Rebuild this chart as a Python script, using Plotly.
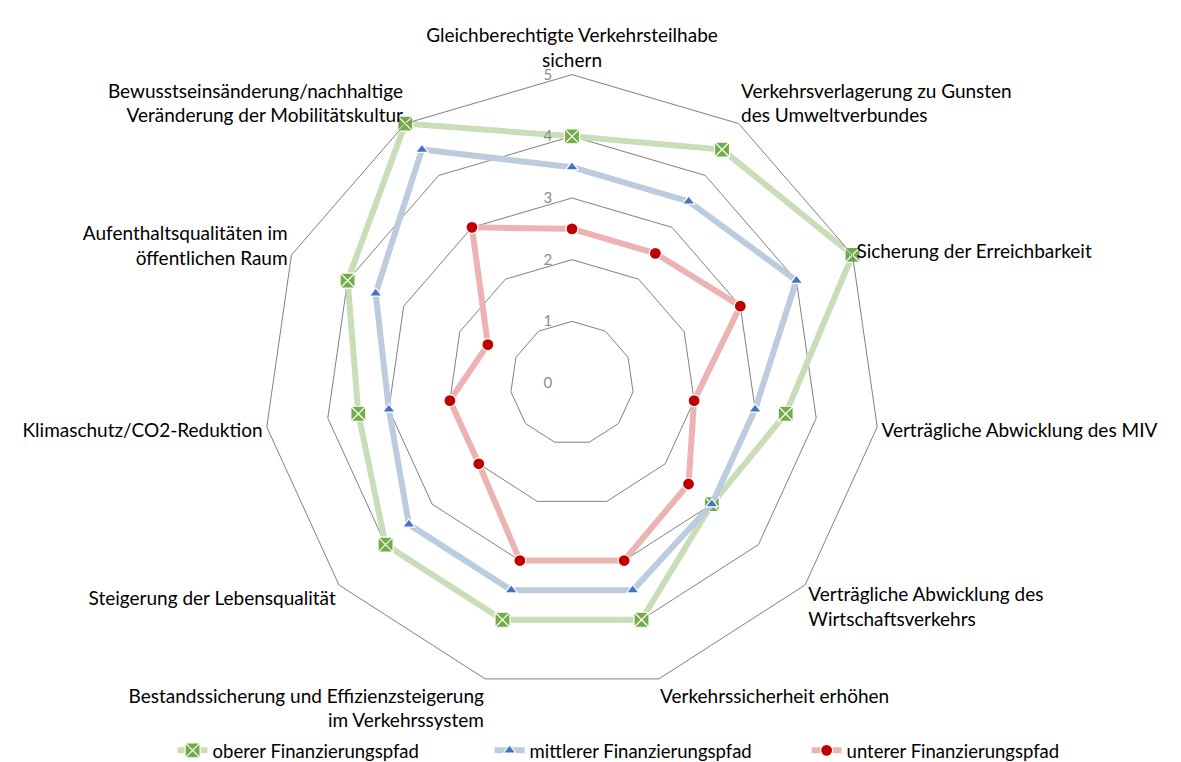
import plotly.graph_objects as go

# Kategorien (im Uhrzeigersinn, oben beginnend)
categories = [
    "Gleichberechtigte Verkehrsteilhabe<br>sichern",
    "Verkehrsverlagerung zu Gunsten<br>des Umweltverbundes",
    "Sicherung der Erreichbarkeit",
    "Verträgliche Abwicklung des MIV",
    "Verträgliche Abwicklung des<br>Wirtschaftsverkehrs",
    "Verkehrssicherheit erhöhen",
    "Bestandssicherung und Effizienzsteigerung<br>im Verkehrssystem",
    "Steigerung der Lebensqualität",
    "Klimaschutz/CO2-Reduktion",
    "Aufenthaltsqualitäten im<br>öffentlichen Raum",
    "Bewusstseinsänderung/nachhaltige<br>Veränderung der Mobilitätskultur",
]

oberer = [4, 4.5, 5, 3.5, 3, 4, 4, 4, 3.5, 4, 5]
mittlerer = [3.5, 3.5, 4, 3, 3, 3.5, 3.5, 3.5, 3, 3.5, 4.5]
unterer = [2.5, 2.5, 3, 2, 2.5, 3, 3, 2, 2, 1.5, 3]

series = [
    ("oberer Finanzierungspfad", oberer, "#C9DDB9", "#70AD47", "square-x", 15),
    ("mittlerer Finanzierungspfad", mittlerer, "#BACCDD", "#4472C4", "triangle-up", 11),
    ("unterer Finanzierungspfad", unterer, "#EDB3B3", "#C00000", "circle", 12),
]

fig = go.Figure()
for name, vals, lc, mc, sym, sz in series:
    fig.add_trace(go.Scatterpolar(
        r=vals + vals[:1], theta=categories + categories[:1],
        mode="lines+markers", name=name,
        line=dict(color=lc, width=6),
        marker=dict(symbol=sym, size=sz, color=mc, line=dict(color="white", width=1.2)),
    ))

# the page body adds an 8px offset, so centre is given in figure pixels
W, H = 1181, 762
cx, cy, rad = 564, 377, 310
fig.update_layout(
    width=W, height=H,
    margin=dict(l=0, r=0, t=0, b=0),
    paper_bgcolor="white",
    font=dict(family="Lato", size=19, color="black"),
    polar=dict(
        domain=dict(x=[(cx - rad) / W, (cx + rad) / W], y=[(H - cy - rad) / H, (H - cy + rad) / H]),
        bgcolor="white",
        gridshape="linear",
        # invisible ticks just push the value labels off the axis
        radialaxis=dict(range=[0, 5], tickvals=[0, 1, 2, 3, 4, 5], angle=90, tickangle=90,
                        side="counterclockwise", showline=False,
                        ticks="outside", ticklen=14, tickcolor="rgba(0,0,0,0)",
                        gridcolor="#808080", gridwidth=1, layer="above traces",
                        tickfont=dict(size=15, color="#8C8C8C")),
        angularaxis=dict(direction="clockwise", rotation=90, showgrid=False,
                         showline=True, linecolor="#808080", linewidth=1, ticks="",
                         layer="above traces", tickfont=dict(size=19)),
    ),
    legend=dict(orientation="h", x=0.542, xanchor="center", y=0.02, yanchor="middle",
                font=dict(size=18.5), entrywidth=272),
)

fig.write_html("out.html")
